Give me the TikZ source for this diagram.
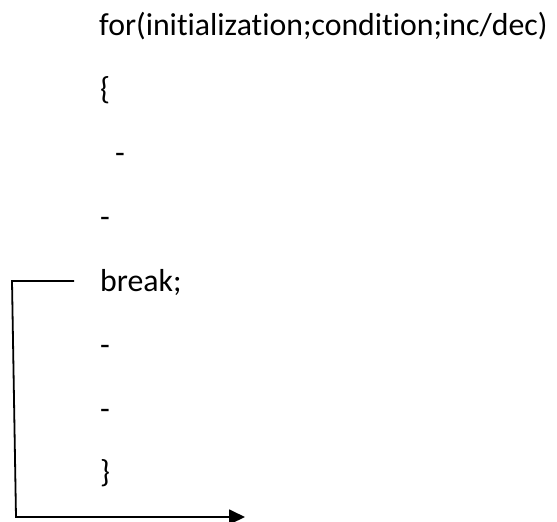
\documentclass[tikz,border=0pt]{standalone}
\usepackage{fontspec}
\setmainfont{Carlito}[Ligatures=NoCommon]
\usetikzlibrary{arrows.meta}
\begin{document}
\begin{tikzpicture}[x=1pt,y=-1pt,
  code/.style={inner sep=0pt, anchor=base west, font=\fontsize{31.8}{36}\selectfont},
  conn/.style={line width=1.8pt, black}]
\useasboundingbox (0,0) rectangle (557,522);
\node[code] (for) at (99,35) {for(initialization;condition;inc/dec)};
\node[code] (open) at (100,99) {\{};
\node[code] (d1) at (115,163) {-};
\node[code] (d2) at (100,227) {-};
\node[code] (brk) at (100,291) {break;};
\node[code] (d3) at (100,355) {-};
\node[code] (d4) at (100,419) {-};
\node[code] (close) at (100,482) {\}};
\coordinate (a) at (74,281);
\coordinate (b) at (12,281);
\coordinate (c) at (16,517);
\coordinate (e) at (245,517);
\draw[conn, line join=miter, -{Triangle[length=16pt,width=15pt]}] (a) -- (b) -- (c) -- (e);
\end{tikzpicture}
\end{document}
